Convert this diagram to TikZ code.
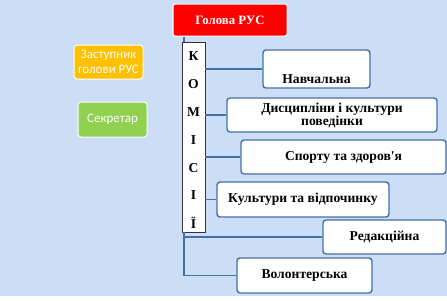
\documentclass[tikz,border=0pt]{standalone}
\usepackage{fontspec}
\setmainfont{Liberation Serif}
\newfontfamily\calib{Carlito}
\newcommand\sqapos{\XeTeXglyph\XeTeXcharglyph"27\relax}
\definecolor{bgblue}{RGB}{204,222,245}
\definecolor{lineblue}{RGB}{65,113,168}
\definecolor{redbox}{RGB}{255,0,0}
\definecolor{orangebox}{RGB}{255,192,0}
\definecolor{greenbox}{RGB}{146,208,80}
\tikzset{
  comfont/.style={font=\bfseries\fontsize{13.6}{14.5}\selectfont},
  combox/.style={draw=lineblue, line width=1.4pt, fill=white, rounded corners=3pt, comfont, align=center, inner sep=0pt},
  sidebox/.style={draw=white, line width=1pt, rounded corners=3pt, text=white, font=\calib\fontsize{13}{14.5}\selectfont, align=center, inner sep=0pt},
  conn/.style={draw=lineblue, line width=1.4pt}
}
\begin{document}
\begin{tikzpicture}[x=1pt,y=-1pt]
\useasboundingbox (0,0) rectangle (447,300);
\fill[white] (0,0) rectangle (447,300);
\fill[bgblue] (0,0) rectangle (447,296);
% head
\node[draw=white, line width=1pt, fill=redbox, rounded corners=2pt, text=white, font=\bfseries\fontsize{12.8}{14}\selectfont, minimum width=114pt, minimum height=32pt, inner sep=0pt] (head) at (230,20) {Голова РУС};
% side boxes
\node[sidebox, fill=orangebox, minimum width=69pt, minimum height=34pt] (dep) at (108.5,62) {Заступник\\голови РУС};
\node[sidebox, fill=greenbox, minimum width=69pt, minimum height=35pt] (sec) at (112.5,119.5) {Секретар};
% commission vertical box
\node[draw=black!80, line width=0.8pt, fill=white, minimum width=23pt, minimum height=190pt, inner sep=0pt] (kom) at (193.5,137) {};
\foreach \l/\yy [count=\i] in {К/56,О/84,М/112,І/140,С/168,І/195,Ї/223}{
  \node[comfont, inner sep=0pt] (L\i) at (193.5,\yy) {\l};
}
% commissions
\node[combox, minimum width=107pt, minimum height=38pt] (b1) at (316.5,69) {};
\node[comfont, inner sep=0pt] (t1) at (316.5,79) {Навчальна};
\node[combox, minimum width=210pt, minimum height=34pt] (b2) at (332,115) {Дисципліни і культури\\[-1.5pt]поведінки};
\node[combox, minimum width=205pt, minimum height=34pt] (b3) at (343.5,157) {Спорту та здоров\sqapos я};
\node[combox, minimum width=172pt, minimum height=35pt] (b4) at (303,199.5) {Культури та відпочинку};
\node[combox, minimum width=123pt, minimum height=34pt] (b5) at (384.5,237) {Редакційна};
\node[combox, minimum width=135pt, minimum height=35pt] (b6) at (304.5,275.5) {Волонтерська};
% connectors
\coordinate (top) at (184,36);
\coordinate (bot) at (184,275.5);
\draw[conn] (head.south -| top) -- (kom.north -| top);
\draw[conn] (kom.south -| top) -- (bot) -- (b6.west);
\draw[conn] (kom.south -| top) |- (b5.west);
\draw[conn] (kom.east |- b1.west) -- (b1.west);
\draw[conn] (kom.east |- b2.west) -- (b2.west);
\draw[conn] (kom.east |- b3.west) -- (b3.west);
\draw[conn] (kom.east |- b4.west) -- (b4.west);
\end{tikzpicture}
\end{document}
